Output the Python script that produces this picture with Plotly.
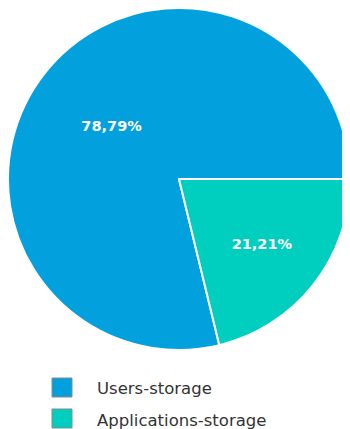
import plotly.graph_objects as go

labels = ['Users-storage', 'Applications-storage']
values = [78.79, 21.21]
colors = ['#03a0de', '#00cebe']

# the small slice runs clockwise from 3 o'clock
start_angle = 90 + 360 * values[1] / sum(values)

fig = go.Figure()

fig.add_trace(go.Pie(
    labels=labels,
    values=values,
    sort=False,
    direction='clockwise',
    rotation=start_angle,
    marker=dict(colors=colors, line=dict(color='white', width=2)),
    texttemplate='%{percent:.2%}',
    textposition='inside',
    insidetextorientation='horizontal',
    textfont=dict(family='DejaVu Sans', size=14.5, color='white', weight='bold'),
    hoverinfo='label+percent',
    showlegend=False,
    domain=dict(x=[0, 1], y=[0, 1]),
))

# hand-made legend, the swatches are bigger than Plotly's own
plot_h = 342
for i, (label, color) in enumerate(zip(labels, colors)):
    top = 370 + i * 31
    fig.add_shape(
        type='rect', xref='paper', yref='paper',
        x0=44 / 342, x1=64 / 342,
        y0=1 - (top + 19) / plot_h, y1=1 - top / plot_h,
        fillcolor=color, line=dict(color='#8a8a8a', width=1),
    )
    fig.add_annotation(
        x=87 / 342, y=1 - (top + 11) / plot_h, xref='paper', yref='paper',
        text=label, showarrow=False, xanchor='left', yanchor='middle',
        font=dict(family='DejaVu Sans', size=16.5, color='#333333'),
    )

fig.update_layout(
    width=350,
    height=429,
    margin=dict(l=0, r=8, t=0, b=87),
    separators=', ',
    paper_bgcolor='white',
    plot_bgcolor='white',
)

fig.write_html('out.html')
